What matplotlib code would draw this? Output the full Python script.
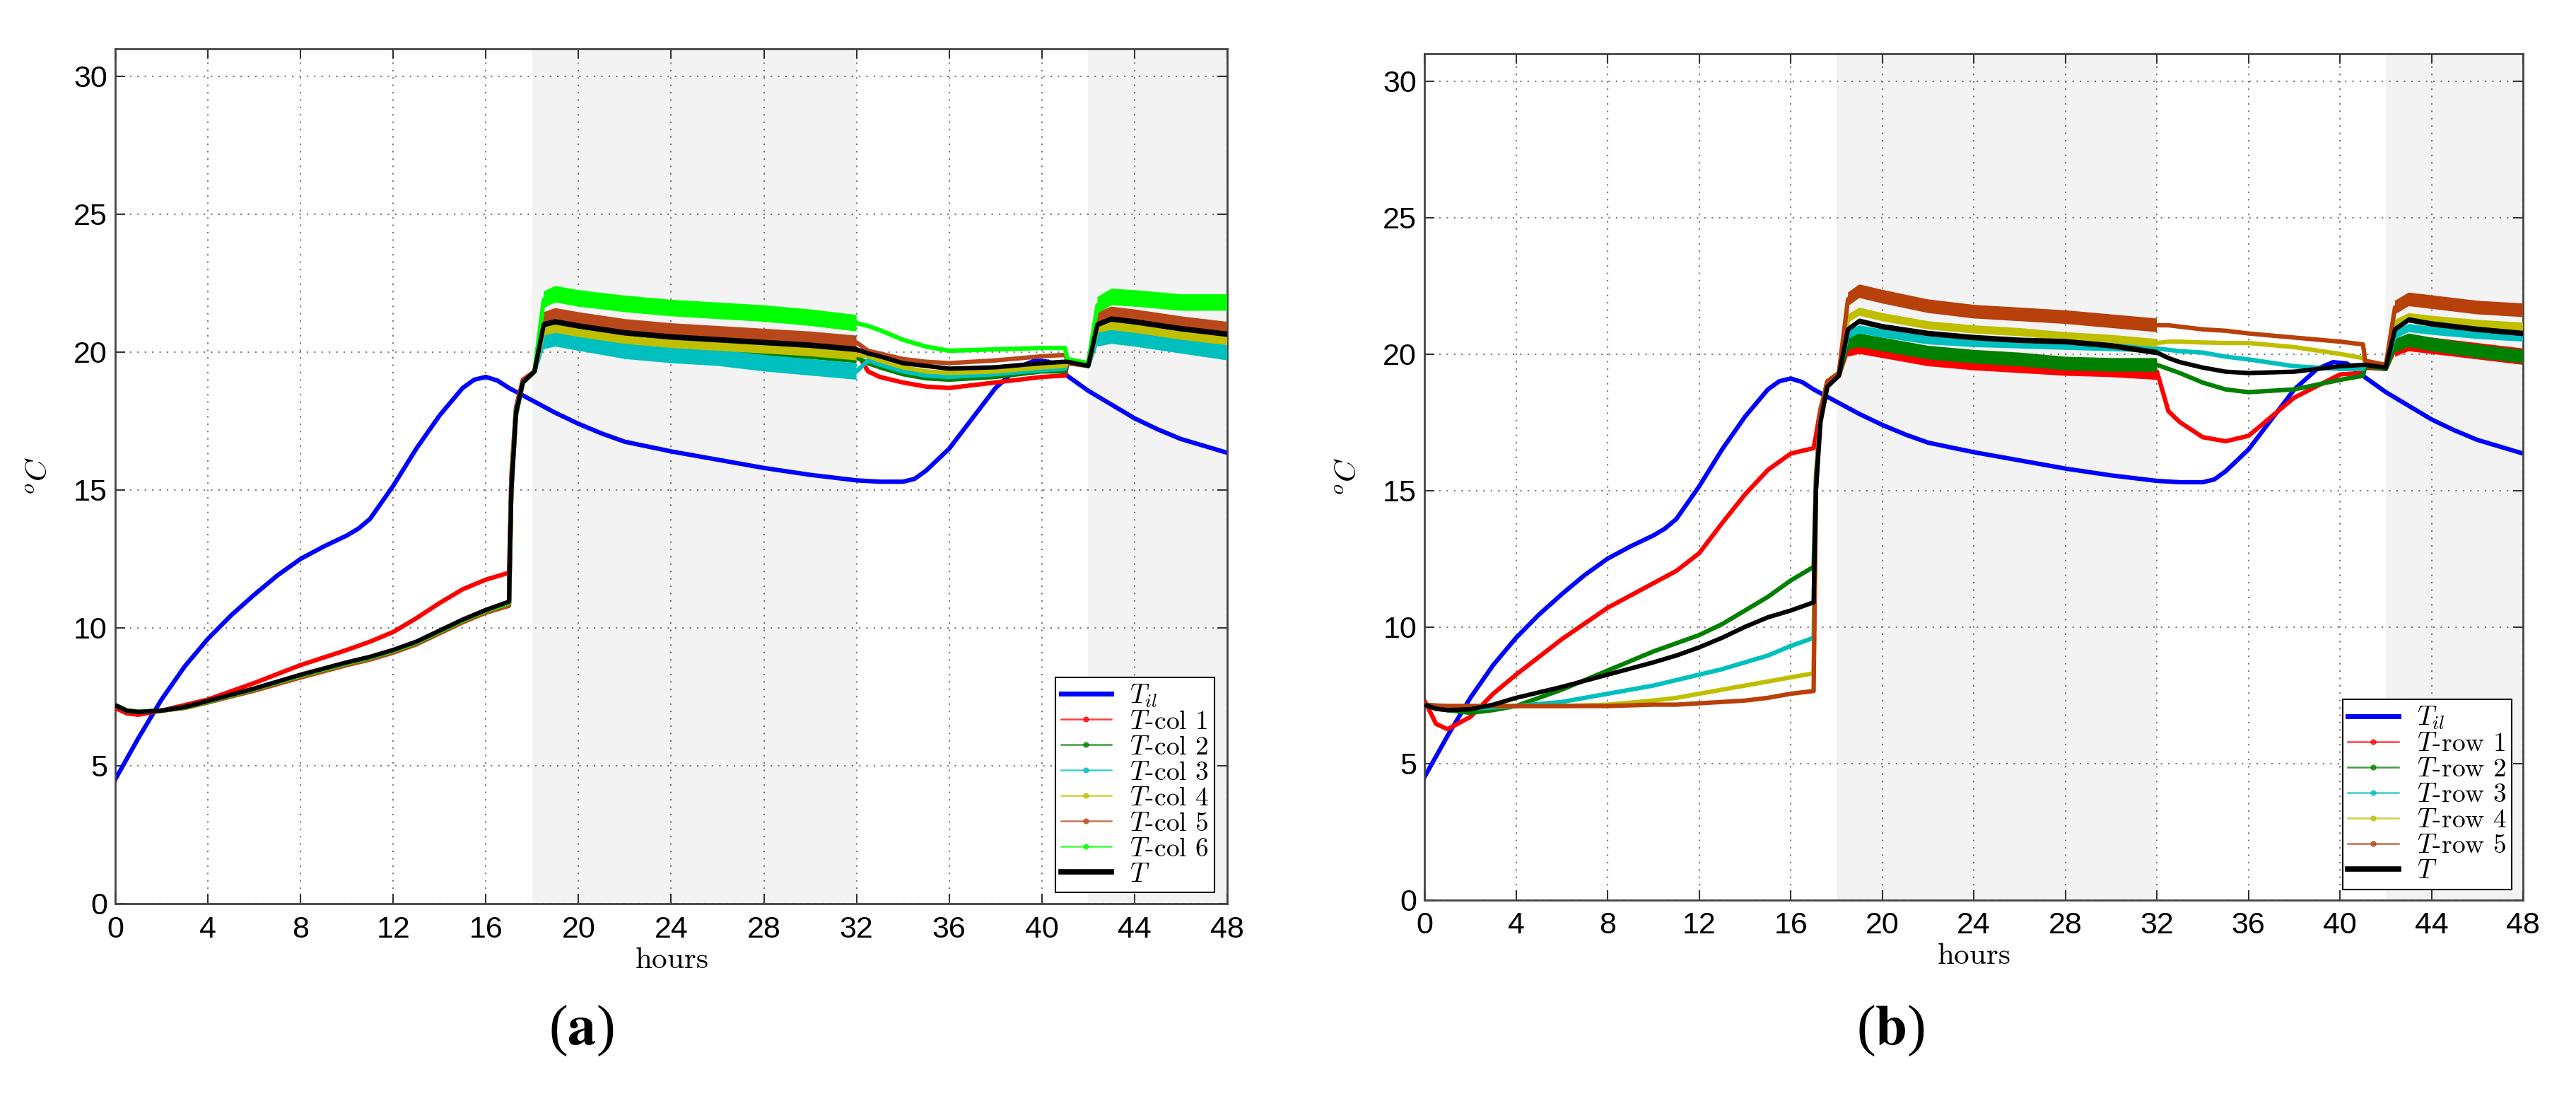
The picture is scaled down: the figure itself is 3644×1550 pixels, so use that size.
import numpy as np
import matplotlib
matplotlib.use('Agg')
import matplotlib.pyplot as plt
from matplotlib.lines import Line2D

plt.rcParams['font.family'] = ['Liberation Sans', 'DejaVu Sans']
plt.rcParams['mathtext.fontset'] = 'cm'

# Inlet temperature T_il (same in both panels)
til_hours = [0, 1, 2, 3, 4, 5, 6, 7, 8, 9, 10, 10.5, 11, 12, 13, 14, 15, 15.5, 16, 16.5,
             17, 18, 19, 20, 21, 22, 24, 26, 28, 30, 32, 33, 34, 34.5, 35, 36, 37, 38,
             39, 39.7, 40.3, 41, 42, 43, 44, 45, 46, 47, 48]
til = [4.5, 6.0, 7.4, 8.6, 9.6, 10.45, 11.2, 11.9, 12.5, 12.95, 13.35, 13.6, 13.95, 15.15,
       16.5, 17.7, 18.7, 19.0, 19.1, 18.97, 18.7, 18.25, 17.8, 17.4, 17.05, 16.75, 16.4,
       16.1, 15.8, 15.55, 15.35, 15.3, 15.3, 15.4, 15.7, 16.5, 17.6, 18.7, 19.45, 19.7,
       19.65, 19.2, 18.6, 18.1, 17.6, 17.2, 16.85, 16.6, 16.35]

# common time axis of the sensor series
hours = [0, 0.5, 1, 2, 3, 4, 6, 8, 10, 11, 12, 13, 14, 15, 16, 17, 17.1, 17.3, 17.6, 18.1,
         18.5, 19, 20, 22, 24, 26, 28, 30, 32, 32.5, 33, 34, 35, 36, 38, 40, 41, 41.1, 42,
         42.4, 43, 44, 46, 48]

# (a) columns
col1 = [7.1, 6.9, 6.85, 7.0, 7.2, 7.4, 8.0, 8.65, 9.2, 9.5, 9.85, 10.35, 10.9, 11.4, 11.75,
        12.0, 15.5, 18.0, 19.0, 19.3, 20.9, 21.0, 20.85, 20.6, 20.45, 20.35, 20.25, 20.15,
        20.0, 19.3, 19.1, 18.9, 18.75, 18.7, 18.9, 19.1, 19.15, 19.6, 19.5, 20.9, 21.1,
        21.0, 20.75, 20.55]
col2 = [7.2, 7.0, 6.95, 7.0, 7.12, 7.33, 7.78, 8.27, 8.72, 8.92, 9.17, 9.47, 9.87, 10.27,
        10.6, 10.9, 15.0, 17.7, 18.9, 19.3, 20.7, 20.8, 20.65, 20.4, 20.25, 20.15, 20.05,
        19.95, 19.8, 19.6, 19.45, 19.2, 19.05, 19.0, 19.1, 19.3, 19.3, 19.65, 19.5, 20.6,
        20.8, 20.7, 20.5, 20.3]
col3 = [7.2, 7.0, 6.95, 7.0, 7.1, 7.3, 7.75, 8.25, 8.7, 8.9, 9.15, 9.45, 9.85, 10.25, 10.6,
        10.9, 15.2, 17.9, 18.9, 19.3, 20.4, 20.5, 20.35, 20.05, 19.9, 19.8, 19.6, 19.45,
        19.3, 19.7, 19.55, 19.3, 19.15, 19.1, 19.2, 19.35, 19.4, 19.65, 19.5, 20.5, 20.6,
        20.5, 20.25, 20.0]
col4 = [7.2, 7.0, 6.95, 7.0, 7.1, 7.3, 7.75, 8.25, 8.7, 8.9, 9.15, 9.45, 9.85, 10.25, 10.6,
        10.85, 15.0, 17.8, 18.9, 19.3, 20.8, 20.9, 20.75, 20.5, 20.35, 20.25, 20.15, 20.05,
        19.9, 19.85, 19.7, 19.45, 19.3, 19.25, 19.3, 19.45, 19.5, 19.65, 19.5, 20.9, 21.0,
        20.9, 20.65, 20.45]
col5 = [7.2, 7.0, 6.95, 7.0, 7.1, 7.3, 7.72, 8.2, 8.65, 8.85, 9.1, 9.4, 9.8, 10.2, 10.55,
        10.8, 15.0, 17.8, 18.9, 19.3, 21.2, 21.35, 21.2, 20.95, 20.8, 20.7, 20.6, 20.5,
        20.35, 20.05, 19.95, 19.75, 19.65, 19.6, 19.7, 19.85, 19.9, 19.7, 19.55, 21.2, 21.4,
        21.3, 21.05, 20.85]
col6 = [7.2, 7.0, 6.95, 7.0, 7.12, 7.33, 7.78, 8.27, 8.72, 8.92, 9.17, 9.47, 9.87, 10.27,
        10.62, 10.9, 15.0, 17.8, 18.9, 19.3, 21.9, 22.1, 21.95, 21.75, 21.6, 21.5, 21.4,
        21.25, 21.05, 20.95, 20.8, 20.45, 20.2, 20.05, 20.1, 20.15, 20.15, 19.75, 19.6,
        21.7, 22.0, 21.95, 21.8, 21.8]
t_a = [7.2, 7.0, 6.95, 7.0, 7.13, 7.35, 7.8, 8.3, 8.75, 8.95, 9.2, 9.5, 9.9, 10.3, 10.65,
       10.95, 15.0, 17.8, 18.9, 19.3, 21.0, 21.1, 20.95, 20.7, 20.55, 20.45, 20.35, 20.25,
       20.1, 19.95, 19.85, 19.6, 19.5, 19.4, 19.45, 19.6, 19.65, 19.65, 19.5, 21.0, 21.2,
       21.1, 20.85, 20.65]

# (b) rows
row1 = [7.3, 6.45, 6.25, 6.7, 7.55, 8.25, 9.55, 10.7, 11.6, 12.05, 12.7, 13.8, 14.85, 15.75,
        16.35, 16.55, 17.0, 18.0, 18.9, 19.2, 20.2, 20.3, 20.15, 19.85, 19.7, 19.6, 19.5,
        19.45, 19.35, 17.9, 17.5, 16.95, 16.8, 17.0, 18.4, 19.25, 19.3, 19.5, 19.45, 20.2,
        20.4, 20.3, 20.1, 19.9]
row2 = [7.15, 7.0, 6.95, 6.85, 6.95, 7.1, 7.7, 8.4, 9.1, 9.4, 9.7, 10.1, 10.6, 11.1, 11.7,
        12.2, 15.5, 17.8, 18.9, 19.2, 20.4, 20.5, 20.35, 20.05, 19.9, 19.8, 19.65, 19.6,
        19.6, 19.45, 19.3, 18.95, 18.7, 18.6, 18.7, 19.05, 19.2, 19.55, 19.45, 20.3, 20.5,
        20.35, 20.1, 19.9]
row3 = [7.15, 7.05, 7.0, 7.0, 7.05, 7.1, 7.25, 7.55, 7.85, 8.05, 8.25, 8.45, 8.7, 8.95, 9.3,
        9.6, 15.0, 17.9, 19.0, 19.3, 20.7, 20.9, 20.75, 20.5, 20.4, 20.35, 20.3, 20.25, 20.2,
        20.15, 20.1, 20.05, 19.9, 19.8, 19.55, 19.45, 19.45, 19.65, 19.55, 20.7, 20.95,
        20.85, 20.7, 20.6]
row4 = [7.15, 7.1, 7.1, 7.1, 7.1, 7.1, 7.1, 7.15, 7.3, 7.4, 7.55, 7.7, 7.85, 8.0, 8.15, 8.3,
        15.0, 17.9, 19.0, 19.3, 21.3, 21.55, 21.35, 21.05, 20.9, 20.8, 20.65, 20.55, 20.4,
        20.45, 20.45, 20.42, 20.4, 20.4, 20.25, 20.0, 19.85, 19.7, 19.6, 21.1, 21.35, 21.25,
        21.1, 21.0]
row5 = [7.15, 7.12, 7.1, 7.1, 7.1, 7.1, 7.1, 7.1, 7.15, 7.15, 7.2, 7.25, 7.3, 7.4, 7.55,
        7.65, 15.0, 17.9, 19.0, 19.3, 22.0, 22.3, 22.1, 21.75, 21.55, 21.45, 21.35, 21.2,
        21.05, 21.05, 21.0, 20.9, 20.85, 20.75, 20.6, 20.45, 20.35, 19.75, 19.6, 21.7, 22.0,
        21.9, 21.7, 21.6]
t_b = [7.15, 7.0, 6.95, 6.98, 7.15, 7.4, 7.8, 8.25, 8.7, 8.95, 9.25, 9.6, 10.0, 10.35, 10.6,
       10.9, 15.0, 17.5, 18.8, 19.2, 20.9, 21.2, 21.0, 20.75, 20.6, 20.5, 20.45, 20.3, 20.05,
       19.85, 19.7, 19.5, 19.35, 19.3, 19.35, 19.55, 19.6, 19.6, 19.5, 20.9, 21.25, 21.1,
       20.9, 20.75]

# half width of the measurement scatter while heating is on
spread_a = [0.2, 0.2, 0.3, 0.2, 0.25, 0.3, 0.1]
spread_b = [0.3, 0.25, 0.15, 0.15, 0.25, 0.1]

labels_a = [r'$T_{il}$'] + [r'$T\text{-col %d}$' % i for i in range(1, 7)] + [r'$T$']
labels_b = [r'$T_{il}$'] + [r'$T\text{-row %d}$' % i for i in range(1, 6)] + [r'$T$']

colors_a = ['#ff0000', '#008000', '#00bfbf', '#bfbf00', '#b8481a', '#00ff00', 'black']
colors_b = ['#ff0000', '#008000', '#00bfbf', '#bfbf00', '#b8400a', 'black']


def draw_series(ax, h, y, half, color, z):
    h = np.asarray(h)
    y = np.asarray(y)
    noisy = ((h >= 18.5) & (h <= 32)) | (h >= 42.4)
    band = np.where(noisy, half, 0.0)
    ax.fill_between(h, y - band, y + band, where=noisy, color=color, lw=0, zorder=z)
    ax.plot(h, y, color=color, lw=4.5, zorder=z, solid_capstyle='butt')


def panel(ax, series, spreads, colors, labels, leg_anchor):
    ax.axvspan(18, 32, color='#f3f3f3', lw=0, zorder=0)
    ax.axvspan(42, 48, color='#f3f3f3', lw=0, zorder=0)
    ax.plot(til_hours, til, color='#0000ff', lw=4.5, zorder=2)
    for k, (s, sp, c) in enumerate(zip(series, spreads, colors)):
        draw_series(ax, hours, s, sp, c, 3 + k)

    ax.set_xlim(0, 48)
    ax.set_ylim(0, 31)
    ax.set_xticks(np.arange(0, 49, 4))
    ax.set_yticks(np.arange(0, 31, 5))
    ax.set_axisbelow(True)
    ax.grid(True, linestyle=(0, (1, 4)), color='#777777', lw=1.5)
    ax.tick_params(direction='in', length=10, width=1.5, top=True, right=True,
                   labelsize=31, colors='#333333', labelcolor='black')
    ax.tick_params(axis='x', pad=12)
    ax.tick_params(axis='y', pad=8)
    for sp in ax.spines.values():
        sp.set_linewidth(2)
        sp.set_color('#444444')

    ax.set_xlabel(r'$\mathrm{hours}$', fontsize=31)
    ax.xaxis.set_label_coords(0.5, -0.05)
    ax.set_ylabel(r'$^oC$', fontsize=31, rotation=90)

    handles = [Line2D([], [], color='#0000ff', lw=5)]
    for c in colors[:-1]:
        handles.append(Line2D([], [], color=c, lw=1.8, alpha=0.75, marker='o', markersize=5))
    handles.append(Line2D([], [], color='black', lw=5.5))
    leg = ax.legend(handles, labels, loc='lower right', bbox_to_anchor=leg_anchor,
                    borderaxespad=0, fontsize=27, labelspacing=0.0, handlelength=1.9,
                    handletextpad=0.7, borderpad=0.2, fancybox=False, framealpha=1,
                    edgecolor='black')
    leg.get_frame().set_linewidth(1.5)
    leg.set_zorder(20)


fig = plt.figure(figsize=(36.44, 15.5), dpi=100)
ax_a = fig.add_axes([0.0447, 0.1755, 0.4317, 0.780])
ax_b = fig.add_axes([0.553, 0.179, 0.4265, 0.772])

panel(ax_a, [col1, col2, col3, col4, col5, col6, t_a], spread_a, colors_a, labels_a,
      (0.9885, 0.0132))
panel(ax_b, [row1, row2, row3, row4, row5, t_b], spread_b, colors_b, labels_b,
      (0.9897, 0.0125))
ax_a.yaxis.set_label_coords(-0.056, 0.5)
ax_b.yaxis.set_label_coords(-0.0566, 0.5)

fig.text(822 / 3644, 1 - 1458 / 1550, r'($\mathbf{a}$)', family='Liberation Serif',
         math_fontfamily='stix', fontsize=58, ha='center', va='center')
fig.text(2674 / 3644, 1 - 1458 / 1550, r'($\mathbf{b}$)', family='Liberation Serif',
         math_fontfamily='stix', fontsize=58, ha='center', va='center')

fig.savefig('out.png', dpi=100)
